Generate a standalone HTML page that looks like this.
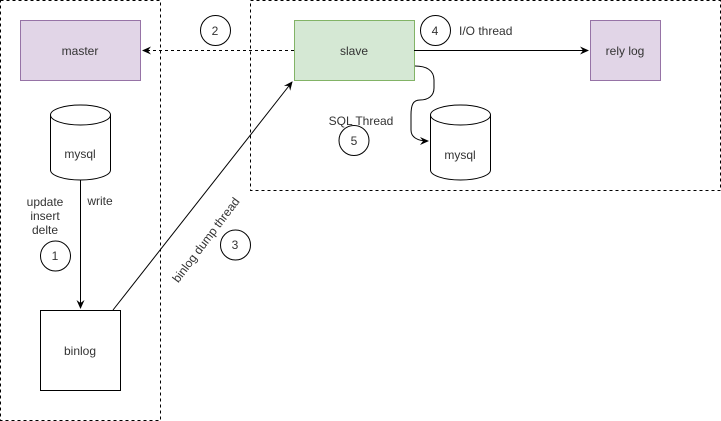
<!DOCTYPE html>
<html><head><meta charset="utf-8"><style>body{margin:0;background:#fff}svg{display:block}text{font-family:"Liberation Sans",Arial,sans-serif;font-size:12px;fill:#333}</style></head><body>
<svg width="721" height="421" viewBox="0 0 721 421">
<defs><marker id="a" markerWidth="10" markerHeight="10" refX="8" refY="5" orient="auto" markerUnits="userSpaceOnUse"><path d="M0,1 L9,5 L0,9 L3,5 Z" fill="#000"/></marker></defs>
<g fill="none" stroke="#000" stroke-dasharray="3,3">
<rect x="0.5" y="0.5" width="160" height="420"/>
<rect x="250.5" y="0.5" width="470" height="190"/>
</g>
<rect x="20.5" y="20.5" width="120" height="60" fill="#e1d5e7" stroke="#9673a6"/>
<text x="80" y="55" text-anchor="middle">master</text>
<rect x="294.5" y="20.5" width="120" height="60" fill="#d5e8d4" stroke="#82b366"/>
<text x="354" y="55" text-anchor="middle">slave</text>
<rect x="590.5" y="20.5" width="70" height="60" fill="#e1d5e7" stroke="#9673a6"/>
<text x="625" y="55" text-anchor="middle">rely log</text>
<rect x="40.5" y="310.5" width="80" height="80" fill="#fff" stroke="#000"/>
<text x="80" y="355" text-anchor="middle">binlog</text>
<g fill="#fff" stroke="#000">
<path d="M50.5,115 A30,10 0 0 1 110.5,115 L110.5,170 A30,10 0 0 1 50.5,170 Z"/>
<path d="M50.5,115 A30,10 0 0 0 110.5,115" fill="none"/>
<path d="M430.5,115 A30,10 0 0 1 490.5,115 L490.5,170 A30,10 0 0 1 430.5,170 Z"/>
<path d="M430.5,115 A30,10 0 0 0 490.5,115" fill="none"/>
</g>
<text x="80" y="158" text-anchor="middle">mysql</text>
<text x="460" y="159" text-anchor="middle">mysql</text>
<g fill="none" stroke="#000">
<line x1="80.5" y1="180" x2="80.5" y2="308" marker-end="url(#a)"/>
<line x1="113" y1="310" x2="292" y2="82" marker-end="url(#a)"/>
<line x1="414" y1="50.5" x2="588" y2="50.5" marker-end="url(#a)"/>
<line x1="294" y1="50.5" x2="143" y2="50.5" stroke-dasharray="3,3" marker-end="url(#a)"/>
<path d="M415,66 C426,66 434,70 434,80 L434,88 C434,96 428,100 420,100 C413,100 411,105 411,115 L411,130 C411,137 417,141 428,141" marker-end="url(#a)"/>
<circle cx="55.5" cy="256" r="15"/>
<circle cx="215.5" cy="30.5" r="15"/>
<circle cx="235.5" cy="245" r="15"/>
<circle cx="435.5" cy="30.5" r="15"/>
<circle cx="354" cy="140.5" r="15"/>
</g>
<g text-anchor="middle">
<text x="55" y="260">1</text><text x="215" y="35">2</text><text x="235" y="249">3</text><text x="435" y="35">4</text><text x="354" y="145">5</text>
<text x="45" y="206">update</text><text x="45" y="220">insert</text><text x="45" y="234">delte</text>
<text x="100" y="205">write</text>
<text x="361" y="125">SQL Thread</text>
<text x="206" y="244" transform="rotate(-53 206 240)">binlog dump thread</text>
</g>
<text x="459" y="35">I/O thread</text>
</svg>
</body></html>
